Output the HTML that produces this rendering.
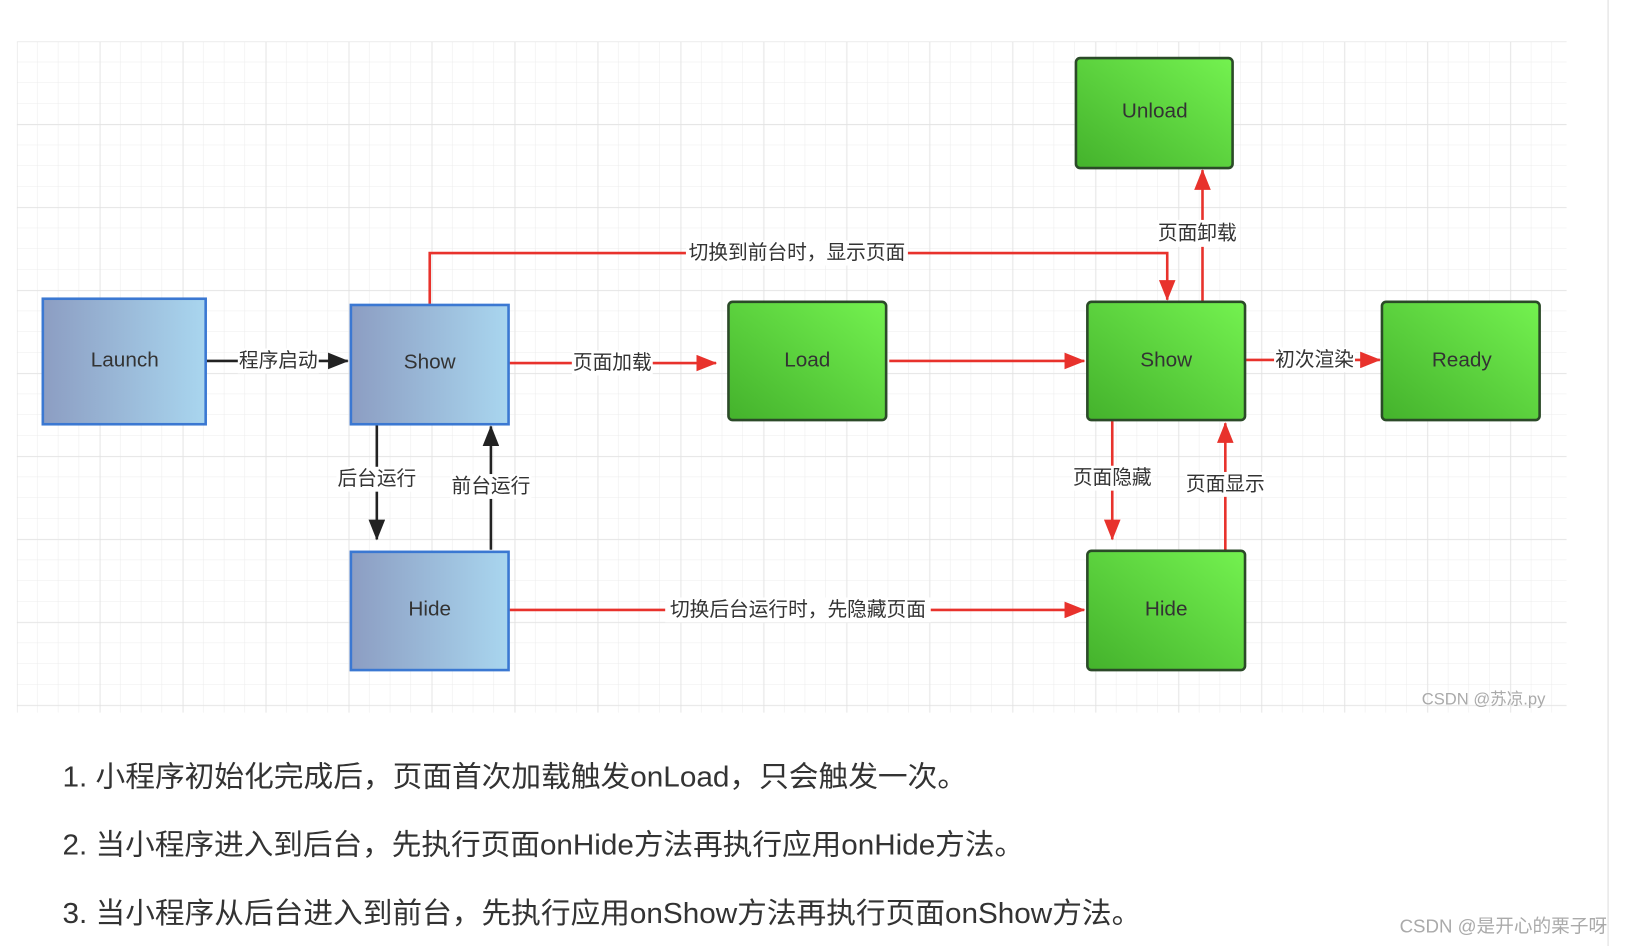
<!DOCTYPE html>
<html><head><meta charset="utf-8"><style>
html,body{margin:0;padding:0;background:#fff;width:1626px;height:946px;overflow:hidden}
svg{display:block}
</style></head><body>
<svg width="1626" height="946" viewBox="0 0 1567 912" xmlns="http://www.w3.org/2000/svg" font-family="'Liberation Sans','Noto Sans CJK SC',sans-serif">
<defs>
<pattern id="g" x="16" y="40" width="20" height="20" patternUnits="userSpaceOnUse">
<path d="M20 0V20M0 20H20" stroke="#ececec" stroke-width="1" fill="none"/>
</pattern>
<pattern id="G" x="16" y="40" width="80" height="80" patternUnits="userSpaceOnUse">
<path d="M0 0V80M0 0H80" stroke="#e0e0e0" stroke-width="1.2" fill="none"/>
</pattern>
<linearGradient id="b" x1="0" x2="1"><stop offset="0" stop-color="#8c9dc2"/><stop offset="1" stop-color="#a9d6ef"/></linearGradient>
<linearGradient id="gr" x1="0" y1="1" x2="1" y2="0"><stop offset="0" stop-color="#44b22c"/><stop offset="1" stop-color="#74f250"/></linearGradient>
<marker id="ar" markerWidth="20" markerHeight="16" refX="19" refY="8" orient="auto" markerUnits="userSpaceOnUse" viewBox="0 0 20 16"><path d="M0 0L20 8L0 16z" fill="#e8322c"/></marker>
<marker id="ak" markerWidth="20" markerHeight="16" refX="19" refY="8" orient="auto" markerUnits="userSpaceOnUse" viewBox="0 0 20 16"><path d="M0 0L20 8L0 16z" fill="#222"/></marker>
</defs>
<rect x="16" y="40" width="1494" height="647" fill="url(#g)"/>
<rect x="16" y="40" width="1494" height="647" fill="url(#G)"/>
<line x1="1550" y1="0" x2="1550" y2="912" stroke="#ddd"/>

<g fill="none" stroke-width="2.5">
<path d="M199 348H335" stroke="#222" marker-end="url(#ak)"/>
<path d="M363 410V520" stroke="#222" marker-end="url(#ak)"/>
<path d="M473 530V411" stroke="#222" marker-end="url(#ak)"/>
<path d="M491 350H690" stroke="#e8322c" marker-end="url(#ar)"/>
<path d="M857 348H1045" stroke="#e8322c" marker-end="url(#ar)"/>
<path d="M1201 347H1330" stroke="#e8322c" marker-end="url(#ar)"/>
<path d="M414 293V244H1125V289" stroke="#e8322c" marker-end="url(#ar)"/>
<path d="M1159 290V164" stroke="#e8322c" marker-end="url(#ar)"/>
<path d="M491 588H1045" stroke="#e8322c" marker-end="url(#ar)"/>
<path d="M1072 406V520" stroke="#e8322c" marker-end="url(#ar)"/>
<path d="M1181 530V408" stroke="#e8322c" marker-end="url(#ar)"/>
</g>

<g font-size="19" fill="#333" text-anchor="middle" dominant-baseline="central">
<rect x="229" y="336" width="78" height="24" fill="#fff"/><text x="268" y="348">程序启动</text>
<rect x="551" y="338" width="78" height="24" fill="#fff"/><text x="590" y="350">页面加载</text>
<rect x="1228" y="335" width="78" height="24" fill="#fff"/><text x="1267" y="347">初次渲染</text>
<rect x="661" y="232" width="214" height="24" fill="#fff"/><text x="768" y="244">切换到前台时，显示页面</text>
<rect x="1115" y="212" width="78" height="26" fill="#fff"/><text x="1154" y="225">页面卸载</text>
<rect x="641" y="576" width="256" height="24" fill="#fff"/><text x="769" y="588">切换后台运行时，先隐藏页面</text>
<rect x="1033" y="449" width="78" height="24" fill="#fff"/><text x="1072" y="461">页面隐藏</text>
<rect x="1142" y="455" width="78" height="24" fill="#fff"/><text x="1181" y="467">页面显示</text>
<rect x="324" y="450" width="78" height="24" fill="#fff"/><text x="363" y="462">后台运行</text>
<rect x="434" y="457" width="78" height="24" fill="#fff"/><text x="473" y="469">前台运行</text>
</g>

<g stroke="#3b78d2" stroke-width="2.5" fill="url(#b)">
<rect x="41" y="288" width="157" height="121"/>
<rect x="338" y="294" width="152" height="115"/>
<rect x="338" y="532" width="152" height="114"/>
</g>
<g stroke="#2b4a28" stroke-width="2.5" fill="url(#gr)">
<rect x="1037" y="56" width="151" height="106" rx="4"/>
<rect x="702" y="291" width="152" height="114" rx="4"/>
<rect x="1048" y="291" width="152" height="114" rx="4"/>
<rect x="1332" y="291" width="152" height="114" rx="4"/>
<rect x="1048" y="531" width="152" height="115" rx="4"/>
</g>
<g font-size="20" fill="#333" text-anchor="middle" dominant-baseline="central">
<text x="120" y="347">Launch</text>
<text x="414" y="349">Show</text>
<text x="414" y="587">Hide</text>
<text x="1113" y="107">Unload</text>
<text x="778" y="347">Load</text>
<text x="1124" y="347">Show</text>
<text x="1409" y="347">Ready</text>
<text x="1124" y="587">Hide</text>
</g>
<text x="1430" y="679" font-size="16" fill="#aaa" text-anchor="middle">CSDN @苏凉.py</text>

<g font-size="28" fill="#333">
<text x="60" y="758" textLength="872" lengthAdjust="spacingAndGlyphs">1. 小程序初始化完成后，页面首次加载触发onLoad，只会触发一次。</text>
<text x="60" y="824" textLength="927" lengthAdjust="spacingAndGlyphs">2. 当小程序进入到后台，先执行页面onHide方法再执行应用onHide方法。</text>
<text x="60" y="890" textLength="1040" lengthAdjust="spacingAndGlyphs">3. 当小程序从后台进入到前台，先执行应用onShow方法再执行页面onShow方法。</text>
</g>
<text x="1349" y="899" font-size="18" fill="#aaa">CSDN @是开心的栗子呀</text>
</svg>
</body></html>
